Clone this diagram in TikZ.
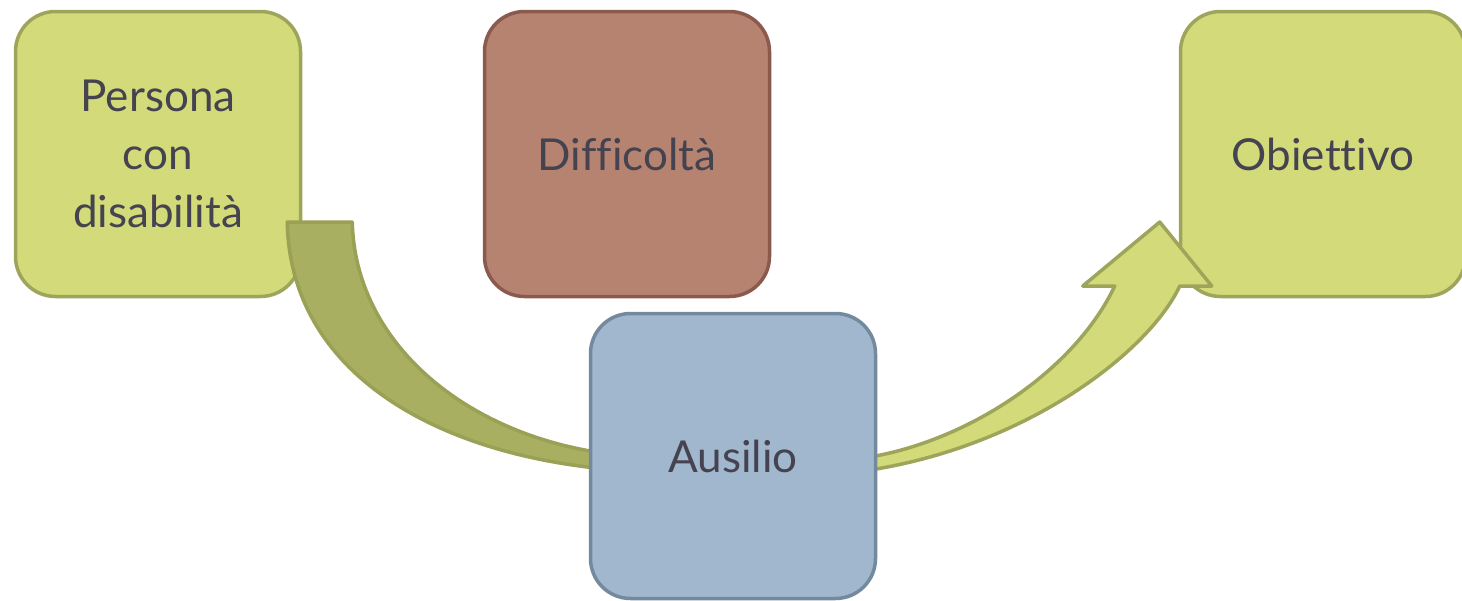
\documentclass[tikz,border=0pt]{standalone}
\usepackage{fontspec}
\setmainfont{Lato}[Ligatures={NoCommon}]
\usetikzlibrary{calc}
\definecolor{lgfill}{HTML}{D3DA7A}
\definecolor{lgdraw}{HTML}{9EA55A}
\definecolor{dgfill}{HTML}{A9AF60}
\definecolor{dgdraw}{HTML}{9AA055}
\definecolor{brfill}{HTML}{B78371}
\definecolor{brdraw}{HTML}{8A5A4E}
\definecolor{blfill}{HTML}{A1B7CD}
\definecolor{bldraw}{HTML}{738A9E}
\definecolor{txt}{HTML}{45434F}
\tikzset{
  box/.style={rounded corners=40pt, line width=3.5pt, minimum width=285pt, minimum height=285pt,
    align=center, text=txt, font=\fontsize{44}{58}\selectfont, inner sep=0pt},
  greenbox/.style={box, fill=lgfill, draw=lgdraw},
  brownbox/.style={box, fill=brfill, draw=brdraw},
  bluebox/.style={box, fill=blfill, draw=bldraw},
  darkarrow/.style={fill=dgfill, draw=dgdraw, line width=3.5pt, line join=round},
  lightarrow/.style={fill=lgfill, draw=lgdraw, line width=3.5pt, line join=round}
}
\begin{document}
\begin{tikzpicture}[x=1pt,y=-1pt]
\useasboundingbox (0,0) rectangle (1462,600);
\clip (0,0) rectangle (1462,600);
\node[greenbox] (pers) at (158,154) {Persona\\con\\disabilità};
\node[brownbox] (diff) at (627,154) {Difficoltà};
\node[greenbox] (obj) at (1323,154) {Obiettivo};
% left arrow (Persona -> Ausilio)
\coordinate (aw) at (733-145,456);
\draw[darkarrow] ($(pers.east)+(-15,68)$) -- ($(pers.east)+(50,68)$)
  .. controls (355,340) and (460,430) .. ($(aw)+(8,-4)$)
  -- ($(aw)+(8,12)$)
  .. controls (430,450) and (290,370) .. ($(pers.east)+(-15,68)$) -- cycle;
% right arrow (Ausilio -> Obiettivo)
\coordinate (ae) at (733+145,456);
\draw[lightarrow] ($(ae)+(-8,1)$)
  .. controls (970,440) and (1075,370) .. ($(obj.west)+(-64,132)$)
  -- ($(obj.west)+(-96,132)$)
  -- ($(obj.west)+(-19,68)$)
  -- ($(obj.west)+(33,132)$)
  -- ($(obj.west)+(1,132)$)
  .. controls (1150,350) and (1030,445) .. ($(ae)+(-8,14)$) -- cycle;
\node[bluebox] (aus) at (733,456) {Ausilio};
\end{tikzpicture}
\end{document}
